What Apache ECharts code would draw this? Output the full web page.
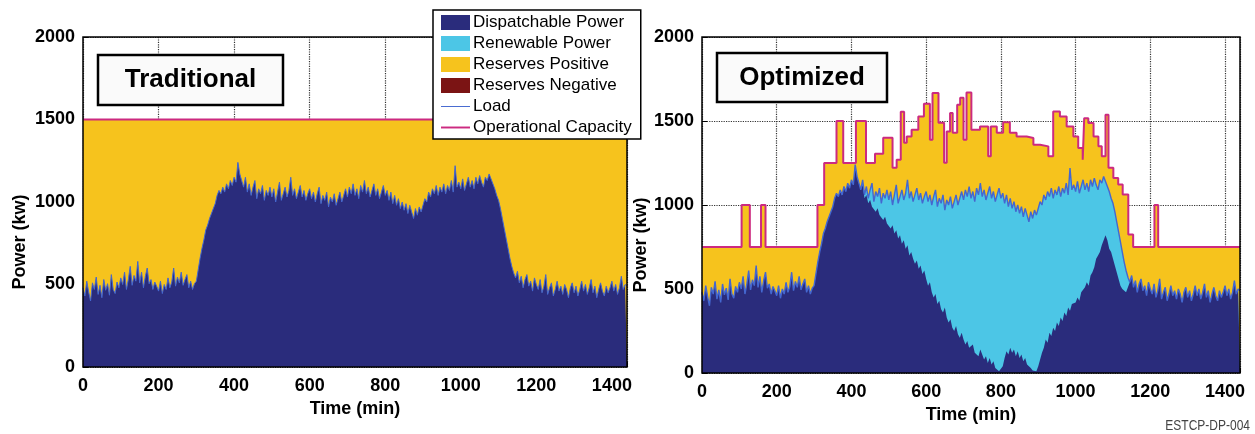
<!DOCTYPE html>
<html><head><meta charset="utf-8">
<script src="https://cdn.jsdelivr.net/npm/echarts@6/dist/echarts.min.js"></script>
<style>html,body{margin:0;padding:0;background:#fff}#c{width:1255px;height:434px}</style>
</head><body><div id="c"></div>
<script>
// ---- data ----
const loadStepMin = 5; // minutes between load samples, starting at t = 0
const loadKw = [
  480,430,520,455,400,510,470,545,440,495,420,530,465,505,435,560,470,445,515,480,
  540,500,575,470,530,610,495,555,520,640,510,575,480,550,600,505,530,470,515,490,
  460,520,445,500,470,540,480,515,600,490,545,510,575,495,530,560,480,520,470,505,
  520,590,660,720,770,830,860,900,910,960,990,1040,1070,1050,1090,1060,1110,1080,1130,1100,
  1150,1120,1240,1170,1130,1090,1150,1060,1110,1040,1090,1130,1020,1080,1050,1100,1010,1070,1040,1090,
  1030,1080,1000,1060,1120,1010,1050,1090,1030,1070,1150,1040,1080,1020,1060,1100,1030,1070,1010,1050,
  1080,1020,1060,1000,1050,1090,990,1040,1010,1060,970,1030,1000,1050,980,1020,1060,1000,1040,1080,
  1030,1090,1050,1110,1040,1080,1020,1100,1060,1130,1050,1090,1030,1070,1110,1040,1080,1020,1060,1100,
  1040,1070,1010,1060,990,1040,980,1020,960,1000,950,990,930,980,940,900,960,920,970,940,
  980,1020,1000,1060,1030,1080,1050,1100,1040,1090,1060,1110,1050,1100,1070,1130,1060,1220,1090,1120,
  1080,1140,1070,1110,1150,1090,1130,1080,1150,1110,1160,1120,1090,1150,1130,1170,1140,1150,1080,1040,
  1010,960,900,840,780,720,660,610,570,540,580,510,550,480,530,560,490,520,460,540,
  500,470,530,450,490,560,440,480,510,430,470,520,460,490,440,500,470,420,480,510,
  450,490,430,470,520,460,500,440,480,530,450,490,420,470,510,460,430,490,450,480,
  520,460,500,440,480,550,470,500,490
];
// Optimized: dispatchable power where renewables share the load (t = 420 .. 1140, 5-min steps)
const dispatchOptStart = 420;
const dispatchOptEnd = 1140;
const dispatchOptKw = [
  1130,1090,1120,1040,1060,1010,1030,990,1000,960,980,940,950,910,930,890,
  900,860,880,830,850,800,820,770,790,740,760,700,720,680,650,670,620,640,590,610,
  560,520,540,480,450,470,410,430,380,360,390,330,300,320,270,250,280,230,210,240,
  200,170,190,150,140,170,120,130,100,140,110,80,100,60,90,50,70,30,20,10,
  5,40,90,130,110,150,120,140,100,130,90,110,70,90,50,60,30,15,5,10,
  40,80,120,150,200,180,240,220,270,250,300,280,330,310,360,340,390,370,410,400,
  420,450,430,480,470,510,540,520,580,600,630,680,700,720,760,790,820,790,740,720,
  680,640,600,560,520,500,490,480,480
];
// Operational capacity (value holds from each time until the next)
const capTradMin = [0, 1440];
const capTradKw = [1500, 1500];
const capOptMin = [0,106,128,158,170,309,327,360,378,412,439,463,485,510,521,532,541,548,561,579,594,610,617,633,648,655,664,671,683,691,700,708,721,744,766,773,789,806,824,842,869,887,905,927,940,958,976,994,1007,1019,1023,1034,1048,1061,1070,1080,1088,1101,1114,1126,1141,1154,1211,1221,1440];
const capOptKw  = [750,1000,750,1000,750,1000,1250,1500,1250,1500,1250,1305,1400,1222,1270,1555,1370,1408,1448,1527,1602,1389,1666,1490,1252,1438,1548,1430,1596,1638,1389,1670,1448,1468,1290,1468,1430,1492,1430,1408,1399,1359,1349,1290,1557,1527,1468,1408,1339,1270,1517,1488,1408,1349,1290,1537,1221,1161,1122,1062,825,750,1000,750,750];
const xTickLabels = [0,200,400,600,800,1000,1200,1400];
const yTickLabels = [0,500,1000,1500,2000];
const seriesNames = ['Dispatchable Power','Renewable Power','Reserves Positive','Reserves Negative','Load','Operational Capacity'];

// ---- build pairs ----
const loadPairs = loadKw.map((v, i) => [i * loadStepMin, v]);
const dispatchPairs = [];
loadPairs.forEach(p => { if (p[0] < dispatchOptStart) dispatchPairs.push(p); });
dispatchOptKw.forEach((v, i) => dispatchPairs.push([dispatchOptStart + i * loadStepMin, v]));
loadPairs.forEach(p => { if (p[0] > dispatchOptEnd) dispatchPairs.push(p); });
const capTradPairs = capTradMin.map((t, i) => [t, capTradKw[i]]);
const capOptPairs = capOptMin.map((t, i) => [t, capOptKw[i]]);

const C = {navy:'#2a2c7c', cyan:'#4cc6e6', yellow:'#f6c31d', red:'#7b1414', load:'#4467d0', cap:'#cc2a80'};
const sans = '"Liberation Sans",Arial,Helvetica,sans-serif';

function xAxis(gi, nameGap){
  return {type:'value', gridIndex:gi, min:0, max:1440, interval:200,
    name:'Time (min)', nameLocation:'middle', nameGap:nameGap,
    nameTextStyle:{fontFamily:sans, fontWeight:'bold', fontSize:18, color:'#000'},
    axisLine:{show:false}, axisTick:{show:true, inside:true, length:5, lineStyle:{color:'#000'}},
    axisLabel:{fontFamily:sans, fontWeight:'bold', fontSize:18, color:'#000', margin:10,
      formatter: v => xTickLabels.includes(v) ? String(v) : ''},
    splitLine:{show:true, lineStyle:{type:'dotted', color:'#333', width:1.2}}};
}
function yAxis(gi, nameGap){
  return {type:'value', gridIndex:gi, min:0, max:2000, interval:500,
    name:'Power (kw)', nameLocation:'middle', nameGap:nameGap, nameRotate:90,
    nameTextStyle:{fontFamily:sans, fontWeight:'bold', fontSize:18, color:'#000', padding:[0,80,0,0]},
    axisLine:{show:false}, axisTick:{show:true, inside:true, length:5, lineStyle:{color:'#000'}},
    axisLabel:{fontFamily:sans, fontWeight:'bold', fontSize:18, color:'#000', margin:8,
      formatter: v => yTickLabels.includes(v) ? String(v) : ''},
    splitLine:{show:true, lineStyle:{type:'dotted', color:'#333', width:1.2}}};
}
function area(name, gi, data, color, z, step){
  return {name, type:'line', xAxisIndex:gi, yAxisIndex:gi, data, step:step||false, symbol:'none',
    color, lineStyle:{width:0}, areaStyle:{color, opacity:1}, z, silent:true, animation:false};
}
function line(name, gi, data, color, width, z, step){
  return {name, type:'line', xAxisIndex:gi, yAxisIndex:gi, data, step:step||false, symbol:'none',
    color, lineStyle:{width, color}, z, silent:true, animation:false};
}

const option = {
  animation:false,
  grid:[{left:83, top:37, width:544, height:330},{left:702, top:37, width:538, height:336}],
  xAxis:[xAxis(0, 32), xAxis(1, 33)],
  yAxis:[yAxis(0, 54), yAxis(1, 50)],
  legend:{left:433, top:10, orient:'vertical', z:200, backgroundColor:'#fff',
    borderColor:'#000', borderWidth:1.5, padding:[4,9,3,8], itemGap:4,
    itemWidth:29, itemHeight:15, selectedMode:false,
    textStyle:{fontFamily:sans, fontSize:17, color:'#000', padding:[0,0,0,-2]},
    data:[{name:seriesNames[0], icon:'rect'},{name:seriesNames[1], icon:'rect'},
          {name:seriesNames[2], icon:'rect'},{name:seriesNames[3], icon:'rect'},
          {name:seriesNames[4], icon:'path://M0,0H30V1H0Z'},
          {name:seriesNames[5], icon:'path://M0,0H30V2H0Z'}]},
  series:[
    area(seriesNames[2], 0, capTradPairs, C.yellow, 1),
    area(seriesNames[0], 0, loadPairs, C.navy, 2),
    area(seriesNames[3], 0, [], C.red, 2),
    line(seriesNames[4], 0, loadPairs, C.load, 1, 3),
    line(seriesNames[5], 0, capTradPairs, C.cap, 2, 4),
    area(seriesNames[2], 1, capOptPairs, C.yellow, 1, 'end'),
    area(seriesNames[1], 1, loadPairs, C.cyan, 2),
    area(seriesNames[0], 1, dispatchPairs, C.navy, 3),
    line(seriesNames[4], 1, loadPairs, C.load, 1.4, 4),
    line(seriesNames[5], 1, capOptPairs, C.cap, 2, 5, 'end')
  ],
  graphic:[
    {type:'rect', shape:{x:83, y:37, width:544, height:330}, style:{fill:'none', stroke:'#000', lineWidth:1.5}, z:100, silent:true},
    {type:'rect', shape:{x:702, y:37, width:538, height:336}, style:{fill:'none', stroke:'#000', lineWidth:1.5}, z:100, silent:true},
    {type:'rect', shape:{x:98, y:55, width:185, height:50}, style:{fill:'#fafafa', stroke:'#000', lineWidth:2.5}, z:110, silent:true},
    {type:'text', x:190.5, y:80, style:{text:'Traditional', font:'bold 26px '+sans, fill:'#000', align:'center', verticalAlign:'middle', textAlign:'center', textVerticalAlign:'middle'}, z:111, silent:true},
    {type:'rect', shape:{x:717, y:53, width:170, height:49}, style:{fill:'#fafafa', stroke:'#000', lineWidth:2.5}, z:110, silent:true},
    {type:'text', x:802, y:77.5, style:{text:'Optimized', font:'bold 26px '+sans, fill:'#000', align:'center', verticalAlign:'middle', textAlign:'center', textVerticalAlign:'middle'}, z:111, silent:true},
    {type:'text', x:1250, y:426, scaleX:0.8, style:{text:'ESTCP-DP-004', font:'15px '+sans, fill:'#444', align:'right', verticalAlign:'middle', textAlign:'right', textVerticalAlign:'middle'}, z:111, silent:true}
  ]
};
const chart = echarts.init(document.getElementById('c'), null, {renderer:'canvas'});
chart.setOption(option);
</script>
</body></html>
